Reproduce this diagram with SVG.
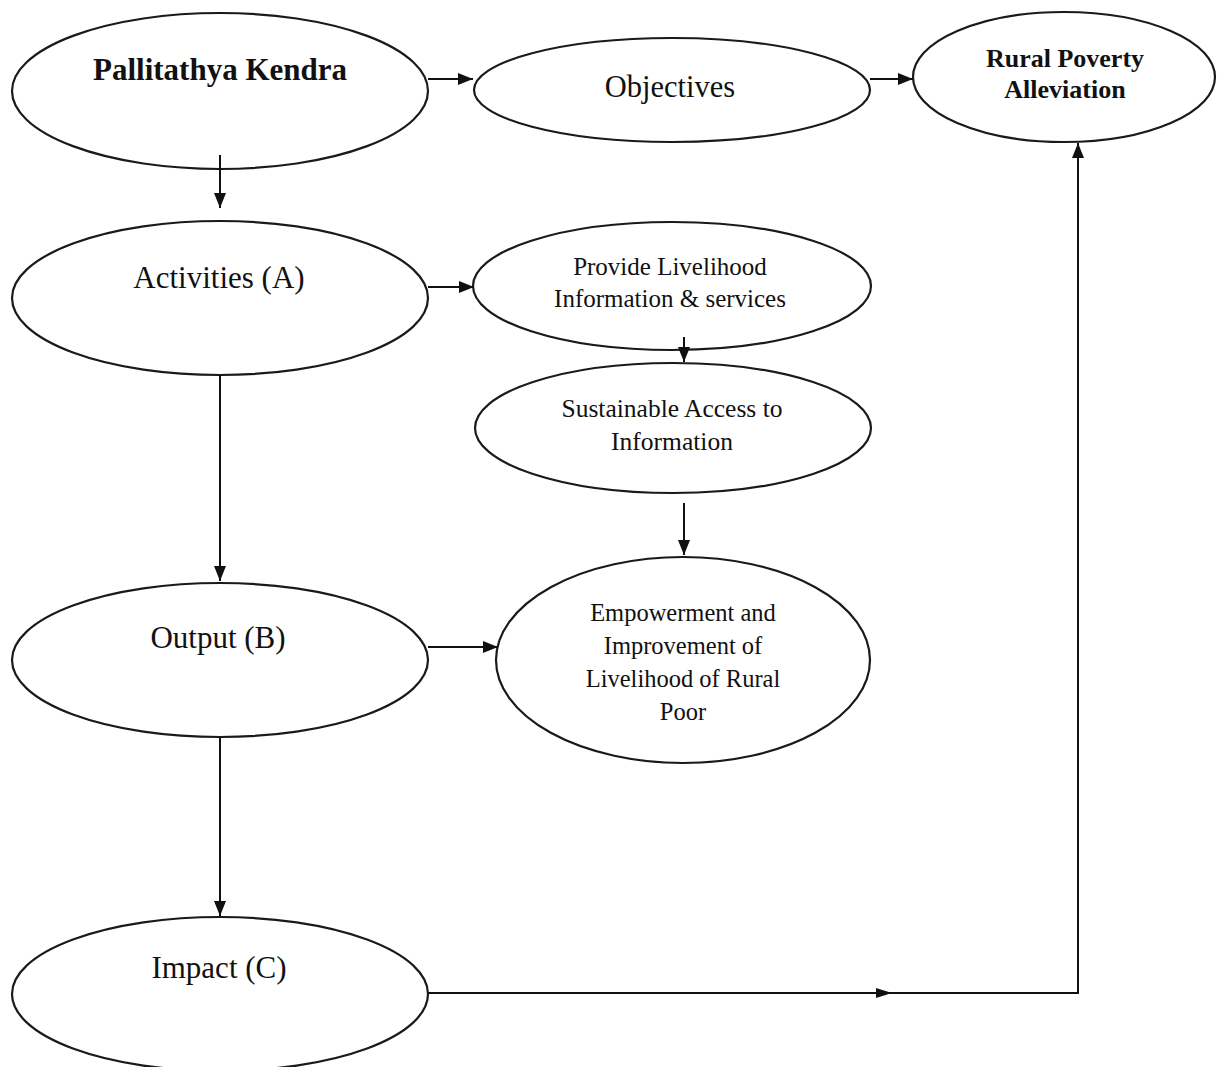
<svg xmlns="http://www.w3.org/2000/svg" width="1217" height="1067" viewBox="0 0 1217 1067">
<style>
.node ellipse{fill:#fff;stroke:#1a1a1a;stroke-width:2.2}
.t{font-family:"Liberation Serif","Times New Roman",serif;fill:#111;text-anchor:middle}
.b{font-weight:bold}
.c line,.c path{stroke:#111;stroke-width:2;fill:none}
.c polygon{fill:#111;stroke:none}
</style>
<defs>
<marker id="ah" markerUnits="userSpaceOnUse" markerWidth="15" markerHeight="12" refX="15" refY="6" orient="auto">
<polygon points="0,0 15,6 0,12" fill="#111"/>
</marker>
</defs>
<rect width="1217" height="1067" fill="#fff"/>
<g class="node" id="pallitathya">
<ellipse cx="220" cy="91" rx="208" ry="78"/>
<text class="t b" x="220" y="80" font-size="31">Pallitathya Kendra</text>
</g>
<g class="node" id="objectives">
<ellipse cx="672" cy="90" rx="198" ry="52"/>
<text class="t" x="670" y="97" font-size="30.5">Objectives</text>
</g>
<g class="node" id="rural">
<ellipse cx="1064" cy="77" rx="151" ry="65"/>
<text class="t b" x="1065" y="67" font-size="26">Rural Poverty</text>
<text class="t b" x="1065" y="98" font-size="26">Alleviation</text>
</g>
<g class="node" id="activities">
<ellipse cx="220" cy="298" rx="208" ry="77"/>
<text class="t" x="219" y="288" font-size="31">Activities (A)</text>
</g>
<g class="node" id="provide">
<ellipse cx="672" cy="286" rx="199" ry="64"/>
<text class="t" x="670" y="275" font-size="25">Provide Livelihood</text>
<text class="t" x="670" y="307" font-size="25">Information &amp; services</text>
</g>
<g class="node" id="sustainable">
<ellipse cx="673" cy="428" rx="198" ry="65"/>
<text class="t" x="672" y="417" font-size="25.5">Sustainable Access to</text>
<text class="t" x="672" y="450" font-size="25.5">Information</text>
</g>
<g class="node" id="output">
<ellipse cx="220" cy="660" rx="208" ry="77"/>
<text class="t" x="218" y="648" font-size="31">Output (B)</text>
</g>
<g class="node" id="empowerment">
<ellipse cx="683" cy="660" rx="187" ry="103"/>
<text class="t" x="683" y="621" font-size="24.5">Empowerment and</text>
<text class="t" x="683" y="654" font-size="24.5">Improvement of</text>
<text class="t" x="683" y="687" font-size="24.5">Livelihood of Rural</text>
<text class="t" x="683" y="720" font-size="24.5">Poor</text>
</g>
<g class="node" id="impact">
<ellipse cx="220" cy="994" rx="208" ry="77"/>
<text class="t" x="219" y="978" font-size="31">Impact (C)</text>
</g>
<g class="c" id="connectors">
<line x1="428" y1="79" x2="473" y2="79" marker-end="url(#ah)"/>
<line x1="870" y1="79" x2="913" y2="79" marker-end="url(#ah)"/>
<line x1="220" y1="155" x2="220" y2="208" marker-end="url(#ah)"/>
<line x1="428" y1="287" x2="474" y2="287" marker-end="url(#ah)"/>
<line x1="684" y1="337" x2="684" y2="362" marker-end="url(#ah)"/>
<line x1="220" y1="375" x2="220" y2="581" marker-end="url(#ah)"/>
<line x1="684" y1="503" x2="684" y2="555" marker-end="url(#ah)"/>
<line x1="428" y1="647" x2="498" y2="647" marker-end="url(#ah)"/>
<line x1="220" y1="737" x2="220" y2="916" marker-end="url(#ah)"/>
<path d="M428,993 H1078 V143" marker-end="url(#ah)"/>
<polygon points="876,988 892,993 876,998"/>
</g>
</svg>
